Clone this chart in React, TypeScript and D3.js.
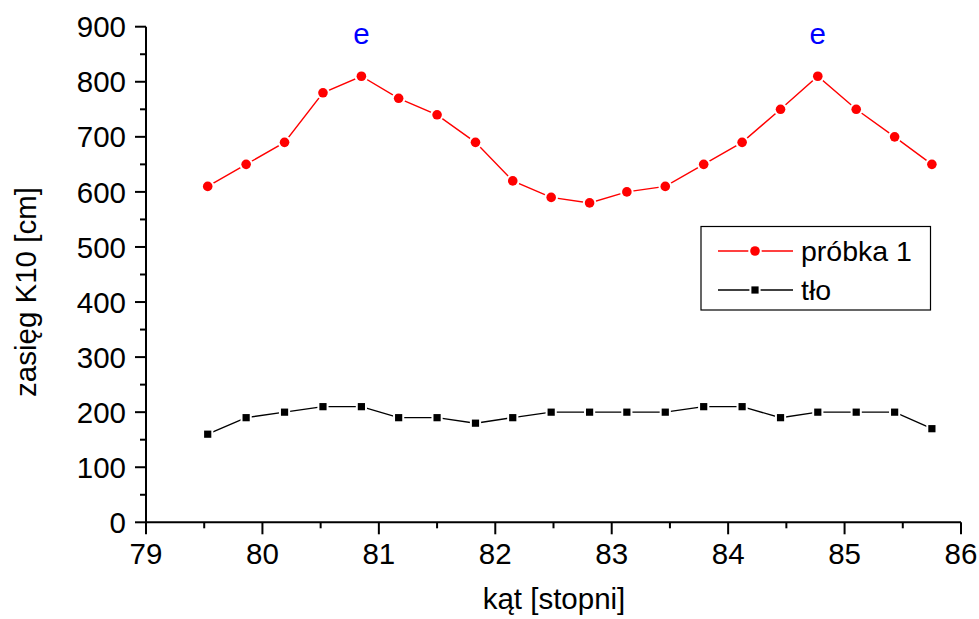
import React from "react";
import * as d3 from "d3";

const angles = [79.53, 79.86, 80.19, 80.52, 80.85, 81.17, 81.5, 81.83, 82.15, 82.48, 82.81, 83.13, 83.46, 83.79, 84.12, 84.45, 84.77, 85.1, 85.43, 85.75];
const probka = [610, 650, 690, 780, 810, 770, 740, 690, 620, 590, 580, 600, 610, 650, 690, 750, 810, 750, 700, 650];
const tlo = [160, 190, 200, 210, 210, 190, 190, 180, 190, 200, 200, 200, 200, 210, 210, 190, 200, 200, 200, 170];
const xTicks = [79, 80, 81, 82, 83, 84, 85, 86];
const yTicks = [0, 100, 200, 300, 400, 500, 600, 700, 800, 900];
const peakLabels = [{ x: 80.85, text: "e" }, { x: 84.77, text: "e" }];
const seriesNames = ["próbka 1", "tło"];

const W = 979, H = 619;
const FONT = "Arial, 'Liberation Sans', sans-serif";

export default function App() {
  const x = d3.scaleLinear().domain([79, 86]).range([146, 961]);
  const y = d3.scaleLinear().domain([0, 900]).range([522.3, 26.7]);
  const line = d3.line<[number, number]>().x(d => x(d[0])).y(d => y(d[1]));
  const redPts: [number, number][] = angles.map((a, i) => [a, probka[i]]);
  const blkPts: [number, number][] = angles.map((a, i) => [a, tlo[i]]);
  const xMinor = d3.range(79.5, 86, 1);
  const yMinor = d3.range(50, 900, 100);
  const x0 = x(79), y0 = y(0);
  return (
    <svg width={W} height={H} style={{ position: "absolute", left: 0, top: 0, background: "#fff" }} fontFamily={FONT}>
      <rect width={W} height={H} fill="#fff" />
      {/* series */}
      <path d={line(redPts) || ""} fill="none" stroke="#ff0000" strokeWidth={1.4} />
      <path d={line(blkPts) || ""} fill="none" stroke="#000" strokeWidth={1.4} />
      {redPts.map((p, i) => (
        <circle key={"r" + i} cx={x(p[0])} cy={y(p[1])} r={4.8} fill="#ff0000" stroke="#fff" strokeWidth={4} style={{ paintOrder: "stroke" }} />
      ))}
      {blkPts.map((p, i) => (
        <rect key={"b" + i} x={x(p[0]) - 3.6} y={y(p[1]) - 3.6} width={7.2} height={7.2} fill="#000" stroke="#fff" strokeWidth={4} style={{ paintOrder: "stroke" }} />
      ))}
      {peakLabels.map((l, i) => (
        <text key={"e" + i} x={x(l.x)} y={44} textAnchor="middle" fontSize={29.5} fill="#0000ff">{l.text}</text>
      ))}
      {/* axes */}
      <line x1={x0} x2={x(86)} y1={y0} y2={y0} stroke="#000" strokeWidth={2} />
      <line x1={x0} x2={x0} y1={y0 + 1} y2={y(900)} stroke="#000" strokeWidth={2} />
      {xTicks.map(t => (
        <g key={"xt" + t}>
          <line x1={x(t)} x2={x(t)} y1={y0} y2={y0 + 12} stroke="#000" strokeWidth={2} />
          <text x={x(t)} y={564} textAnchor="middle" fontSize={29.5}>{t}</text>
        </g>
      ))}
      {xMinor.map(t => (
        <line key={"xm" + t} x1={x(t)} x2={x(t)} y1={y0} y2={y0 + 6} stroke="#000" strokeWidth={2} />
      ))}
      {yTicks.map(t => (
        <g key={"yt" + t}>
          <line x1={x0} x2={x0 - 11} y1={y(t)} y2={y(t)} stroke="#000" strokeWidth={2} />
          <text x={126} y={y(t)} dy="0.36em" textAnchor="end" fontSize={29.5}>{t}</text>
        </g>
      ))}
      {yMinor.map(t => (
        <line key={"ym" + t} x1={x0} x2={x0 - 6} y1={y(t)} y2={y(t)} stroke="#000" strokeWidth={2} />
      ))}
      <text x={554} y={609} textAnchor="middle" fontSize={29.5}>kąt [stopni]</text>
      <text transform="translate(36,292) rotate(-90)" textAnchor="middle" fontSize={29.5}>zasięg K10 [cm]</text>
      {/* legend */}
      <rect x={701} y={226.5} width={229.5} height={83.5} fill="#fff" stroke="#000" strokeWidth={1.2} />
      <line x1={718} x2={793} y1={251} y2={251} stroke="#ff0000" strokeWidth={1.4} />
      <circle cx={755} cy={251} r={4.8} fill="#ff0000" stroke="#fff" strokeWidth={4} style={{ paintOrder: "stroke" }} />
      <text x={801} y={261} fontSize={28.5}>{seriesNames[0]}</text>
      <line x1={718} x2={793} y1={290} y2={290} stroke="#000" strokeWidth={1.4} />
      <rect x={755 - 3.6} y={290 - 3.6} width={7.2} height={7.2} fill="#000" stroke="#fff" strokeWidth={4} style={{ paintOrder: "stroke" }} />
      <text x={801} y={300} fontSize={28.5}>{seriesNames[1]}</text>
    </svg>
  );
}
